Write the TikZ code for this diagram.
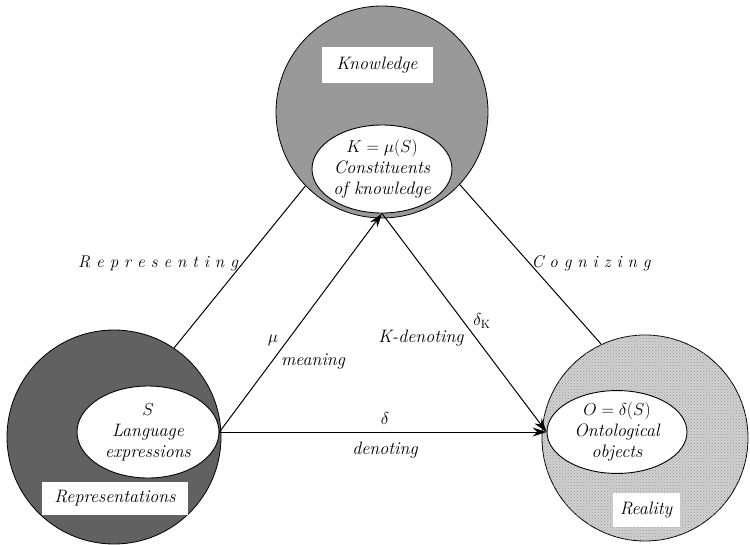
\documentclass[tikz,border=0pt]{standalone}
\usetikzlibrary{arrows.meta,shapes.geometric,patterns}

\begin{document}
\begin{tikzpicture}[x=1pt,y=-1pt,
  every node/.style={font=\fontsize{18}{21}\selectfont\itshape},
  ring/.style={circle,draw,line width=0.8pt,minimum size=#1,inner sep=0pt},
  blob/.style={ellipse,draw,line width=0.9pt,fill=white,align=center,inner sep=0pt},
  tag/.style={fill=white,inner sep=0pt},
  wide/.style={font=\fontsize{17}{21}\selectfont\itshape},
  link/.style={line width=1pt},
  map/.style={line width=1pt,-{Stealth[length=14pt,width=9pt]}}]
  \useasboundingbox (0,0) rectangle (750,544);

  % the three domains
  \node [ring=212pt, fill=black!40] (K) at (382,112) {};
  \node [ring=214pt, fill=black!62] (L) at (114,437) {};
  \node [ring=206pt, fill=black!18, postaction={pattern=crosshatch dots, pattern color=black!40}] (R) at (645,438) {};

  \node [tag, minimum width=111pt, minimum height=36pt] (Kt) at (377,65) {Knowledge};
  \node [tag, minimum width=146pt, minimum height=33pt] (Lt) at (115,498) {Representations};
  \node [tag, minimum width=67pt, minimum height=34pt] (Rt) at (646,510) {Reality};

  % inner sets
  \node [blob, minimum width=140pt, minimum height=88pt] (Kin) at (382,169) {$K=\mu(S)$\\Constituents\\of knowledge};
  \node [blob, minimum width=142pt, minimum height=92pt] (Sin) at (148,432) {$S$\\Language\\expressions};
  \node [blob, minimum width=140pt, minimum height=80pt] (Oin) at (617,432) {$O=\delta(S)$\\Ontological\\objects};

  % outer relations
  \draw [link] (L.56) -- (K.224);
  \draw [link] (K.-43) -- (R.115);
  \node [wide] (rep) at (158,263) {R e p r e s e n t i n g};
  \node [wide] (cog) at (591,263) {C o g n i z i n g};

  % mappings
  \draw [map] (Sin.east) -- (Kin.south);
  \draw [map] (Kin.south) -- (Oin.west);
  \draw [map] (Sin.east) -- (Oin.west);

  \node (mu) at (273,340) {$\mu$};
  \node (mean) at (313,361) {meaning};
  \node (kden) at (421,338) {K-denoting};
  \node (dk) at (482,321) {$\delta_{\mathrm{K}}$};
  \node (d) at (385,418) {$\delta$};
  \node (den) at (385,450) {denoting};
\end{tikzpicture}
\end{document}
